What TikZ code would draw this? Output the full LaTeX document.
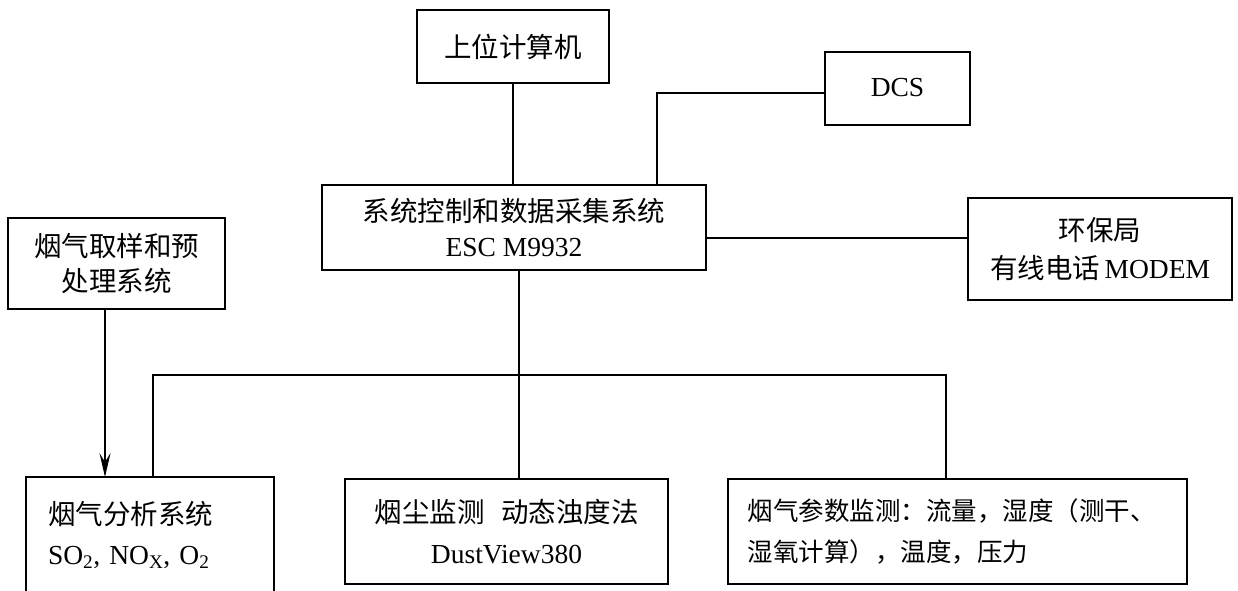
\documentclass[tikz,border=0pt]{standalone}
\usepackage{fontspec}
\setmainfont{Liberation Serif}
\newfontfamily\cjk{Noto Sans CJK SC}[Scale=1.0]
\usetikzlibrary{arrows.meta}
\newcommand\zh[1]{{\cjk #1}}
\begin{document}
\begin{tikzpicture}[x=1pt,y=-1pt,line width=1.9pt,
  box/.style={draw, inner sep=0pt, align=center, font=\fontsize{27.5pt}{35pt}\selectfont},
  link/.style={line width=1.9pt},
  arr/.style={-{Stealth[length=24pt,width=11pt,inset=9pt]}}]
\useasboundingbox (0,0) rectangle (1238,590);
\clip (0,0) rectangle (1238,590);
\node[box, minimum width=192, minimum height=73] (top) at (513,46.5) {\zh{上位计算机}};
\node[box, minimum width=145, minimum height=73] (dcs) at (897.5,88.5) {\raisebox{3pt}{DCS}};
\node[box, minimum width=384, minimum height=85] (ctrl) at (514,227.5) {\zh{系统控制和数据采集系统}\\ESC M9932};
\node[box, minimum width=264, minimum height=102] (env) at (1100,249) {\zh{环保局}\\[3pt]\zh{有线电话}\,MODEM};
\node[box, minimum width=217, minimum height=91] (samp) at (116.5,263.5) {\zh{烟气取样和预}\\\zh{处理系统}};
\node[box, draw=none, minimum width=246, minimum height=114, text width=204, align=left] (ana) at (150,535) {\zh{烟气分析系统}\\[5pt]SO\textsubscript{2}, NO\textsubscript{X}, O\textsubscript{2}};
\draw (ana.south west) -- (ana.north west) -- (ana.north east) -- (ana.south east);
\node[box, minimum width=323, minimum height=105] (dust) at (506.5,531.5) {\zh{烟尘监测}\hspace{0.6em}\zh{动态浊度法}\\[6pt]DustView380};
\node[box, minimum width=459, minimum height=105, text width=420, align=left, font=\fontsize{25.5pt}{35pt}\selectfont] (par) at (957.5,531.5) {\zh{烟气参数监测：流量，湿度（测干、}\\[6pt]\zh{湿氧计算），温度，压力}};
\coordinate (bus) at (519,375);
\draw[link] (top.south) -- (top.south |- ctrl.north);
\draw[link] ([yshift=-4.5pt]dcs.west) -| ([xshift=143pt]ctrl.north);
\draw[link] ([yshift=-10.5pt]ctrl.east) -- ([yshift=-10.5pt]ctrl.east -| env.west);
\draw[link,line width=2.2pt,arr] ([xshift=-11.5pt]samp.south) -- ([xshift=-11.5pt]samp.south |- ana.north);
\draw[link] ([xshift=5pt]ctrl.south) -- ([xshift=12.5pt]dust.north);
\draw[link] ([xshift=3pt]ana.north) |- (bus) -| ([xshift=-11.5pt]par.north);
\end{tikzpicture}
\end{document}
